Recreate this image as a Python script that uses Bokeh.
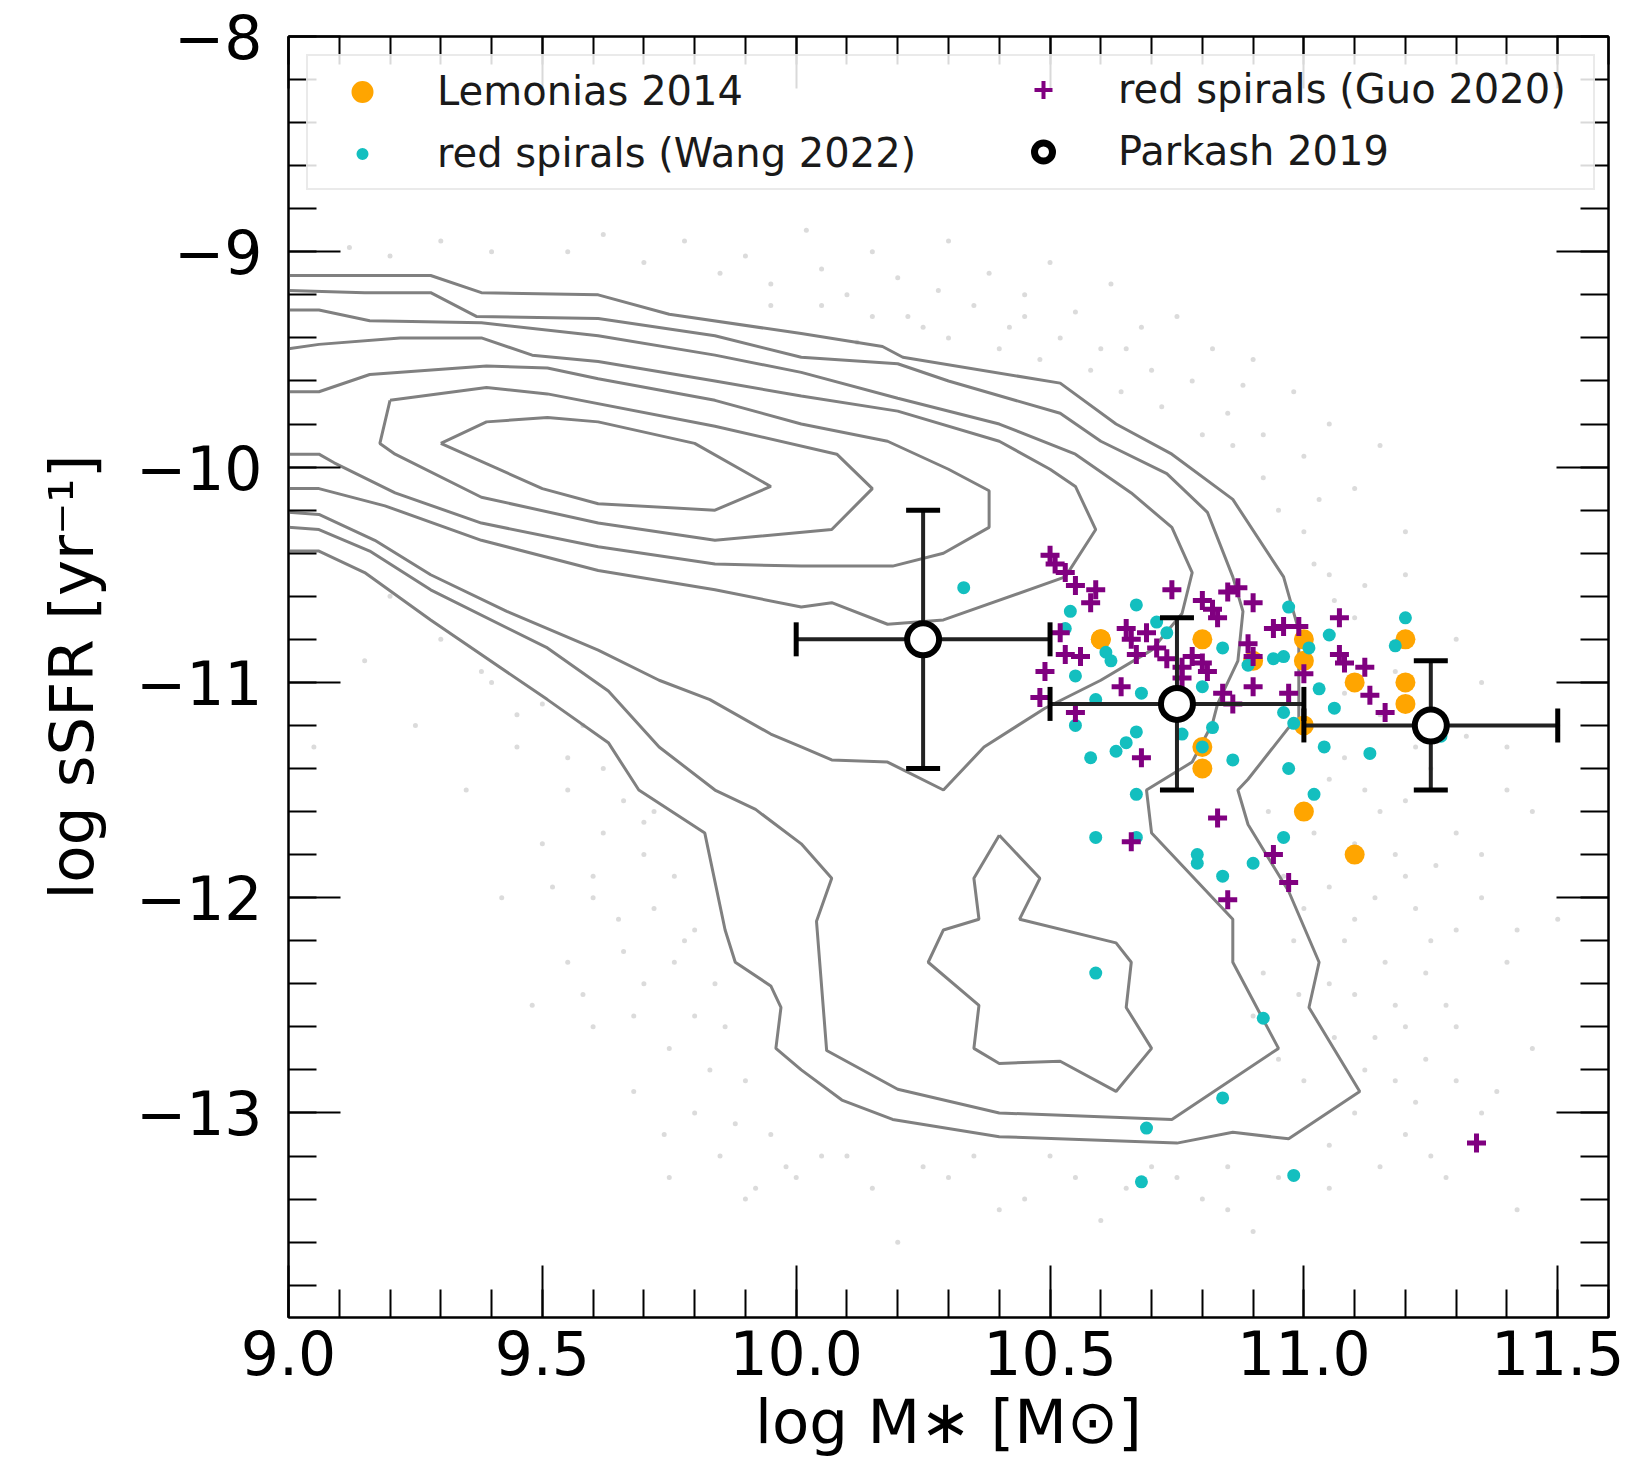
import math
from bokeh.plotting import figure
from bokeh.models import (FixedTicker, LinearAxis, Range1d, Legend, LegendItem,
                          ColumnDataSource, CustomJSTickFormatter)
from bokeh.embed import file_html
from bokeh.resources import INLINE

# ---------------- data ----------------
x_major = [9.0, 9.5, 10.0, 10.5, 11.0, 11.5]
x_minor = [round(9.0 + 0.1 * i, 2) for i in range(0, 27)]
y_major = [-13, -12, -11, -10, -9, -8]
y_minor = [round(-14.0 + 0.2 * i, 2) for i in range(0, 31)]

# Lemonias 2014
lem_x = [10.6, 10.8, 10.9, 10.8, 10.8, 11.0, 11.0, 11.0, 11.1, 11.0, 11.1, 11.2, 11.2, 11.2]
lem_y = [-10.8, -10.8, -10.9, -11.3, -11.4, -10.8, -10.9, -11.2, -11.0, -11.6, -11.8, -10.8, -11.0, -11.1]

# red spirals (Wang 2022)
wang_x = [10.33, 10.54, 10.67, 10.53, 10.55, 10.61, 10.62, 10.71, 10.68, 10.59, 10.55, 10.67, 10.65,
          10.63, 10.58, 10.76, 10.82, 10.80, 10.86, 10.67, 10.59, 10.67, 10.79, 10.79, 10.84, 10.90,
          10.96, 10.97, 11.02, 11.04, 11.06, 11.13, 11.03, 11.05, 10.97, 11.01, 10.96, 10.94, 10.84,
          10.80, 10.96, 10.98, 11.20, 11.18, 11.27, 10.59, 10.92, 10.84, 10.69, 10.68, 10.98, 10.73, 10.89]
wang_y = [-10.56, -10.67, -10.64, -10.75, -10.97, -10.86, -10.90, -10.72, -11.05, -11.08, -11.20, -11.23,
          -11.28, -11.32, -11.35, -11.24, -11.21, -11.30, -11.36, -11.52, -11.72, -11.72, -11.80, -11.84,
          -11.90, -11.84, -11.72, -11.40, -11.52, -11.30, -11.12, -11.33, -11.03, -10.78, -10.65, -10.84,
          -10.88, -10.89, -10.84, -11.02, -11.14, -11.19, -10.70, -10.83, -11.25, -12.35, -12.56, -12.93,
          -13.07, -13.32, -13.29, -10.77, -10.92]

# red spirals (Guo 2020)
guo_x = [10.50, 10.51, 10.53, 10.55, 10.59, 10.58, 10.74, 10.80, 10.82, 10.83, 10.85, 10.87, 10.90,
         10.94, 10.96, 10.99, 11.07, 10.52, 10.53, 10.56, 10.49, 10.48, 10.55, 10.65, 10.66, 10.69,
         10.71, 10.67, 10.73, 10.76, 10.78, 10.80, 10.81, 10.76, 10.64, 10.84, 10.86, 10.90, 10.89,
         10.90, 10.97, 11.00, 11.07, 11.08, 11.12, 11.13, 11.16, 10.68, 10.66, 10.83, 10.94, 10.97,
         10.85, 11.34]
guo_y = [-10.41, -10.45, -10.49, -10.55, -10.57, -10.63, -10.57, -10.62, -10.66, -10.70, -10.58, -10.56,
         -10.63, -10.75, -10.74, -10.74, -10.70, -10.77, -10.87, -10.88, -10.95, -11.07, -11.14, -10.75,
         -10.80, -10.77, -10.84, -10.87, -10.89, -10.93, -10.88, -10.91, -10.95, -10.98, -11.02, -11.05,
         -11.10, -11.02, -10.82, -10.88, -11.05, -10.96, -10.87, -10.91, -10.93, -11.06, -11.14, -11.35,
         -11.74, -11.63, -11.80, -11.93, -12.01, -13.14]

# Parkash 2019 (binned medians)
park_x = [10.25, 10.75, 11.25]
park_y = [-10.8, -11.1, -11.2]
park_xlo = [10.0, 10.5, 11.0]
park_xhi = [10.5, 11.0, 11.5]
park_ylo = [-11.4, -11.5, -11.5]
park_yhi = [-10.2, -10.7, -10.9]

# underlying galaxy sample (faint background points)
bg_x = [9.55, 9.62, 9.70, 9.78, 9.85, 9.90, 9.95, 10.02, 10.05, 10.10, 10.15, 10.20, 10.22, 10.28, 10.30,
        10.35, 10.38, 10.42, 10.45, 10.50, 10.52, 10.55, 10.60, 10.62, 10.68, 10.70, 10.75, 10.78, 10.82,
        10.85, 10.90, 10.92, 10.98, 11.00, 11.05, 11.10, 11.15, 11.20, 9.40, 9.30, 9.20, 9.12,
        11.05, 11.10, 11.20, 11.30, 11.35, 11.25, 11.40, 11.15, 11.30, 11.45, 11.20, 11.35, 11.10, 11.25,
        11.40, 11.05, 11.18, 11.30, 11.45, 11.12, 11.22, 11.35, 11.28, 11.15, 11.42, 11.05, 11.50, 11.50,
        11.00, 11.08,
        9.20, 9.30, 9.15, 9.40, 9.25, 9.45, 9.35, 9.55, 9.50, 9.60, 9.42, 9.65, 9.55, 9.70, 9.60, 9.75,
        9.68, 9.80, 9.85, 9.75, 9.90, 9.05, 9.48, 9.70, 9.78,
        10.00, 10.15, 10.30, 10.45, 10.60, 10.80, 10.90, 10.20, 10.50, 10.70,
        11.02, 11.06, 11.12, 11.18, 11.08, 11.15, 11.22, 11.05, 11.12, 11.20, 11.02, 11.10, 11.18, 11.26,
        11.05, 11.14, 11.22, 11.30, 11.08, 11.16, 11.24, 11.10, 11.20, 11.28, 11.14, 11.24, 11.06, 11.18,
        11.30, 11.10, 11.20, 11.05, 11.25, 11.38, 11.40, 11.35, 11.42, 11.32, 10.98, 10.92, 10.95, 10.90,
        10.93, 10.96, 11.00, 10.99,
        9.50, 9.58, 9.62, 9.66, 9.72, 9.70, 9.76, 9.72, 9.80, 9.76, 9.84, 9.80, 9.86, 9.83, 9.90, 9.88,
        9.95, 9.98, 10.05, 9.60, 9.66, 9.62, 9.55, 9.45, 9.38, 9.52, 9.58, 9.68, 9.74, 9.92,
        10.10, 10.25, 10.35, 10.55, 10.65, 10.75, 10.85, 10.95, 10.40, 10.85,
        10.30, 10.40, 10.48, 10.58, 10.64, 10.72, 10.80, 10.86, 10.92, 10.95, 11.00, 10.25, 10.15, 10.05,
        9.95, 10.12, 10.45, 10.65, 10.88, 11.03]
bg_y = [-9.00, -8.92, -9.05, -8.95, -9.10, -9.02, -9.15, -8.90, -9.08, -9.20, -9.00, -9.12, -9.30, -9.18,
        -8.95, -9.25, -9.10, -9.35, -9.20, -9.05, -9.40, -9.28, -9.45, -9.15, -9.35, -9.55, -9.30, -9.60,
        -9.45, -9.75, -9.50, -9.85, -9.65, -9.95, -9.80, -10.10, -9.90, -10.30, -9.00, -8.95, -9.02, -8.98,
        -10.50, -10.70, -10.50, -10.80, -11.00, -11.40, -11.30, -11.60, -11.70, -11.60, -11.90, -12.00,
        -12.10, -12.20, -12.30, -12.40, -12.50, -12.60, -12.70, -12.80, -12.95, -13.00, -13.30, -13.25,
        -13.45, -13.35, -12.10, -11.20, -12.85, -11.35,
        -10.60, -10.80, -10.90, -11.00, -11.20, -11.30, -11.50, -11.50, -11.75, -11.90, -12.00, -12.10,
        -12.30, -12.40, -12.60, -12.70, -12.90, -13.00, -13.20, -13.30, -13.40, -11.30, -12.50, -11.65,
        -12.20,
        -13.30, -13.35, -13.30, -13.40, -13.50, -13.40, -13.55, -13.60, -13.20, -13.25,
        -10.45, -10.62, -10.55, -10.95, -11.05, -11.15, -11.30, -11.45, -11.50, -11.55, -11.70, -11.75,
        -11.80, -11.85, -11.95, -12.00, -12.05, -12.15, -12.20, -12.30, -12.35, -12.45, -12.60, -12.50,
        -12.65, -12.75, -12.65, -12.85, -12.85, -13.00, -13.10, -13.15, -13.20, -12.90, -11.50, -11.80,
        -12.15, -11.25, -12.20, -12.35, -12.75, -12.55, -11.60, -11.90, -12.05, -12.45,
        -11.10, -11.20, -11.40, -11.55, -11.60, -11.80, -11.90, -12.05, -12.15, -12.30, -12.40, -12.55,
        -12.60, -12.80, -12.85, -13.05, -13.10, -13.25, -13.20, -12.00, -12.25, -11.70, -11.35, -11.15,
        -10.95, -11.95, -12.45, -12.55, -13.10, -13.35,
        -13.20, -13.25, -13.20, -13.30, -13.35, -13.30, -13.25, -13.30, -13.45, -13.45,
        -9.40, -9.45, -9.50, -9.55, -9.65, -9.72, -9.85, -9.90, -10.05, -10.20, -10.30, -9.35, -9.30,
        -9.25, -9.25, -9.42, -9.30, -9.45, -9.62, -10.15]

# density contours of the galaxy sample (outer to inner)
c1_x = [9.0, 9.28, 9.38, 9.61, 9.75, 10.01, 10.17, 10.21, 10.52, 10.63, 10.74, 10.86, 10.96, 10.99, 10.99,
        10.97, 10.89, 10.87, 10.89, 10.97, 11.03, 11.01, 11.11, 10.97, 10.86, 10.75, 10.40, 10.19, 10.09,
        10.01, 9.96, 9.97, 9.95, 9.88, 9.86, 9.82, 9.69, 9.63, 9.51, 9.28, 9.15, 9.06, 9.0]
c1_y = [-9.11, -9.11, -9.19, -9.20, -9.29, -9.38, -9.44, -9.49, -9.61, -9.80, -9.94, -10.15, -10.51, -10.76,
        -11.19, -11.21, -11.45, -11.50, -11.66, -11.97, -12.30, -12.51, -12.90, -13.12, -13.09, -13.14,
        -13.11, -13.03, -12.94, -12.80, -12.70, -12.51, -12.41, -12.30, -12.15, -11.70, -11.50, -11.28,
        -11.08, -10.71, -10.49, -10.39, -10.39]
c2_x = [9.0, 9.15, 9.28, 9.37, 9.61, 9.84, 10.01, 10.20, 10.30, 10.52, 10.60, 10.73, 10.81, 10.86, 10.88,
        10.87, 10.83, 10.82, 10.78, 10.69, 10.70, 10.86, 10.86, 10.95, 10.74, 10.40, 10.20, 10.06, 10.04,
        10.07, 10.01, 9.92, 9.84, 9.73, 9.63, 9.51, 9.28, 9.16, 9.06, 9.0]
c2_y = [-9.18, -9.19, -9.19, -9.30, -9.31, -9.39, -9.49, -9.52, -9.60, -9.75, -9.88, -10.03, -10.21, -10.51,
        -10.67, -10.90, -11.10, -11.19, -11.37, -11.50, -11.70, -12.10, -12.30, -12.70, -13.03, -13.00,
        -12.89, -12.71, -12.11, -11.91, -11.75, -11.59, -11.50, -11.30, -11.04, -10.84, -10.57, -10.39,
        -10.29, -10.28]
c3_x = [9.0, 9.06, 9.16, 9.38, 9.61, 9.84, 10.01, 10.20, 10.40, 10.55, 10.66, 10.74, 10.78, 10.76, 10.70,
        10.60, 10.49, 10.37, 10.29, 10.18, 10.07, 10.01, 9.95, 9.83, 9.73, 9.61, 9.43, 9.28, 9.17, 9.06, 9.0]
c3_y = [-9.27, -9.27, -9.32, -9.33, -9.39, -9.48, -9.56, -9.68, -9.80, -9.94, -10.12, -10.28, -10.49, -10.68,
        -10.85, -10.99, -11.12, -11.30, -11.50, -11.37, -11.36, -11.30, -11.24, -11.08, -10.99, -10.85,
        -10.67, -10.50, -10.34, -10.22, -10.21]
c4_x = [9.0, 9.06, 9.22, 9.38, 9.48, 9.61, 9.84, 10.01, 10.20, 10.40, 10.50, 10.55, 10.59, 10.53, 10.29,
        10.18, 10.07, 10.01, 9.84, 9.61, 9.38, 9.19, 9.06, 9.0]
c4_y = [-9.45, -9.43, -9.40, -9.40, -9.48, -9.51, -9.60, -9.67, -9.74, -9.88, -10.01, -10.09, -10.29, -10.51,
        -10.71, -10.73, -10.63, -10.65, -10.57, -10.48, -10.34, -10.18, -10.10, -10.10]
c5_x = [9.0, 9.06, 9.16, 9.39, 9.51, 9.61, 9.84, 10.01, 10.18, 10.30, 10.38, 10.38, 10.29, 10.19, 10.01,
        9.84, 9.61, 9.38, 9.21, 9.09, 9.06, 9.0]
c5_y = [-9.65, -9.65, -9.57, -9.53, -9.54, -9.59, -9.69, -9.80, -9.88, -10.01, -10.11, -10.28, -10.40, -10.46,
        -10.46, -10.45, -10.37, -10.26, -10.12, -9.98, -9.94, -9.94]
c6_x = [9.20, 9.39, 9.51, 9.84, 10.08, 10.15, 10.07, 9.84, 9.61, 9.38, 9.21, 9.18, 9.20]
c6_y = [-9.69, -9.63, -9.66, -9.81, -9.94, -10.10, -10.29, -10.34, -10.26, -10.14, -9.94, -9.89, -9.69]
c7_x = [9.30, 9.39, 9.51, 9.61, 9.80, 9.95, 9.84, 9.61, 9.50, 9.30]
c7_y = [-9.89, -9.79, -9.77, -9.79, -9.89, -10.09, -10.20, -10.17, -10.10, -9.89]
c8_x = [10.40, 10.48, 10.44, 10.63, 10.66, 10.65, 10.70, 10.63, 10.52, 10.40, 10.35, 10.36, 10.26, 10.29,
        10.36, 10.35, 10.40]
c8_y = [-11.71, -11.91, -12.10, -12.21, -12.30, -12.51, -12.70, -12.90, -12.76, -12.77, -12.70, -12.50,
        -12.30, -12.15, -12.10, -11.91, -11.71]

contour_xs = [c1_x, c2_x, c3_x, c4_x, c5_x, c6_x, c7_x, c8_x]
contour_ys = [c1_y, c2_y, c3_y, c4_y, c5_y, c6_y, c7_y, c8_y]

# ---------------- figure ----------------
W, H = 1628, 1483
p = figure(width=W, height=H, x_range=Range1d(9.0, 11.6), y_range=Range1d(-13.95, -8.0),
           output_backend="svg", toolbar_location=None,
           min_border_left=288, min_border_right=20, min_border_top=36, min_border_bottom=166)
p.xgrid.visible = False
p.ygrid.visible = False
p.background_fill_color = "white"
p.border_fill_color = "white"
p.outline_line_color = "black"
p.outline_line_width = 2

FONT = "DejaVu Sans"
xfmt = CustomJSTickFormatter(code="return tick.toFixed(1);")
yfmt = CustomJSTickFormatter(code="return (tick < 0 ? '\\u2212' : '') + Math.abs(tick).toFixed(0);")
blank = CustomJSTickFormatter(code="return '';")


def style_axis(ax):
    ax.major_tick_in = 52
    ax.major_tick_out = 0
    ax.minor_tick_in = 28
    ax.minor_tick_out = 0
    ax.major_tick_line_width = 2
    ax.minor_tick_line_width = 2
    ax.major_tick_line_color = "black"
    ax.minor_tick_line_color = "black"
    ax.axis_line_width = 2
    ax.axis_line_color = "black"
    ax.major_label_text_font = FONT
    ax.major_label_text_font_size = "60px"
    ax.major_label_text_color = "black"
    ax.axis_label_text_font = FONT
    ax.axis_label_text_font_size = "61px"
    ax.axis_label_text_font_style = "normal"
    ax.axis_label_text_color = "black"


p.xaxis[0].ticker = FixedTicker(ticks=x_major, minor_ticks=x_minor)
p.xaxis[0].formatter = xfmt
p.yaxis[0].ticker = FixedTicker(ticks=y_major, minor_ticks=y_minor)
p.yaxis[0].formatter = yfmt
style_axis(p.xaxis[0])
style_axis(p.yaxis[0])
p.xaxis[0].major_label_standoff = 12
p.xaxis[0].axis_label_standoff = 8
p.yaxis[0].major_label_standoff = 26
p.yaxis[0].axis_label_standoff = 26
p.xaxis[0].axis_label = "log M\u2217 [M\u2299]"
p.yaxis[0].axis_label = "log sSFR [yr\u207b\u00b9]"

top_ax = LinearAxis(ticker=FixedTicker(ticks=x_major, minor_ticks=x_minor), formatter=blank)
right_ax = LinearAxis(ticker=FixedTicker(ticks=y_major, minor_ticks=y_minor), formatter=blank)
for ax in (top_ax, right_ax):
    style_axis(ax)
    ax.major_label_standoff = 0
p.add_layout(top_ax, "above")
p.add_layout(right_ax, "right")

ORANGE, CYAN, PURPLE = "orange", "#13bfbf", "purple"

# legend key glyphs: drawn first, underneath the real markers of the same point,
# so only their legend swatches are visible
leg_or = p.scatter(lem_x[:1], lem_y[:1], marker="circle", size=16, fill_color=ORANGE,
                   line_color=ORANGE, line_width=4)
leg_cy = p.scatter(wang_x[:1], wang_y[:1], marker="circle", size=13, fill_color=CYAN,
                   line_color="white", line_width=6)
leg_pu = p.scatter(guo_x[:1], guo_y[:1], marker="cross", size=16, line_color=PURPLE, line_width=4)
leg_pk = p.scatter(park_x[:1], park_y[:1], marker="circle", size=20, fill_color="white",
                   line_color="black", line_width=7)

# background sample
p.scatter(bg_x, bg_y, marker="circle", size=5, fill_color="#b8b8b8", line_color=None, fill_alpha=0.5)

# contours
p.multi_line(xs=contour_xs, ys=contour_ys, line_color="#808080", line_width=3)

# samples
p.scatter(lem_x, lem_y, marker="circle", size=20, fill_color=ORANGE, line_color=None)
p.scatter(wang_x, wang_y, marker="circle", size=13, fill_color=CYAN, line_color=None)
p.scatter(guo_x, guo_y, marker="cross", size=19, line_color=PURPLE, line_width=5)

# Parkash 2019 with error bars
src = ColumnDataSource(dict(x=park_x, y=park_y, xl=park_xlo, xu=park_xhi, yl=park_ylo, yu=park_yhi))
p.segment(x0="xl", y0="y", x1="xu", y1="y", source=src, line_color="#222222", line_width=4)
p.segment(x0="x", y0="yl", x1="x", y1="yu", source=src, line_color="#222222", line_width=4)
for col in ("xl", "xu"):
    p.scatter(x=col, y="y", source=src, marker="dash", size=34, angle=math.pi / 2,
              line_color="black", line_width=5)
for col in ("yl", "yu"):
    p.scatter(x="x", y=col, source=src, marker="dash", size=34, line_color="black", line_width=5)
p.scatter("x", "y", source=src, marker="circle", size=32, fill_color="white",
          line_color="black", line_width=6)

common = dict(padding=12, spacing=16, glyph_width=84, glyph_height=45, label_standoff=33,
              label_text_font=FONT, label_text_font_size="40px", label_text_color="#1a1a1a", margin=18)
legA = Legend(items=[LegendItem(label="Lemonias 2014", renderers=[leg_or]),
                     LegendItem(label="red spirals (Wang 2022)", renderers=[leg_cy])],
              location="top_left", label_width=1144, border_line_color="#d5d5d5", border_line_width=2,
              background_fill_color="white", background_fill_alpha=0.85, **common)
legB = Legend(items=[LegendItem(label="red spirals (Guo 2020)", renderers=[leg_pu]),
                     LegendItem(label="Parkash 2019", renderers=[leg_pk])],
              location="top_right", label_width=460, border_line_alpha=0, background_fill_alpha=0,
              **common)
p.add_layout(legA)
p.add_layout(legB)

open("out.html", "w").write(file_html(p, INLINE))
